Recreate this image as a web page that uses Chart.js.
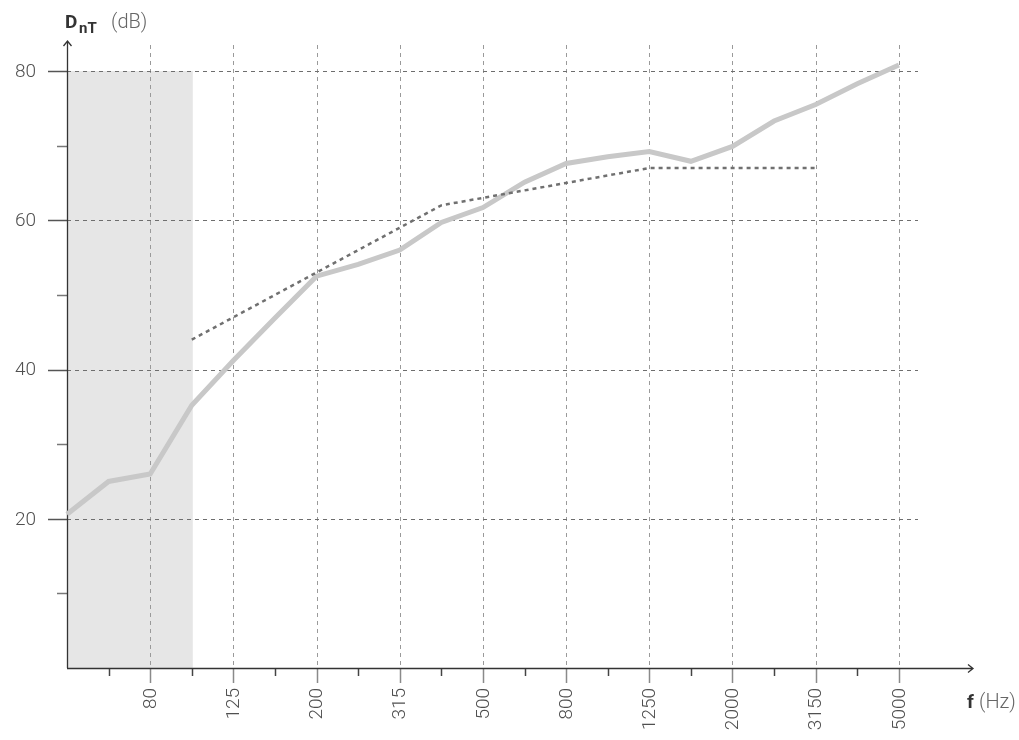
<!DOCTYPE html>
<html>
<head>
<meta charset="utf-8">
<script src="https://cdn.jsdelivr.net/npm/chart.js"></script>
<style>
  body { margin: 0; background: #fff; }
  canvas { display: block; }
</style>
</head>
<body>
<canvas id="chart" width="1019" height="740"></canvas>
<script>
// 1/3-octave band centre frequencies (Hz)
const freqs = ['50', '63', '80', '100', '125', '160', '200', '250', '315', '400', '500',
  '630', '800', '1000', '1250', '1600', '2000', '2500', '3150', '4000', '5000'];
// only these get a label / long tick / vertical grid
const labeledFreqs = ['80', '125', '200', '315', '500', '800', '1250', '2000', '3150', '5000'];
// measured DnT (dB)
const measured = [20.6, 25.0, 26.0, 35.2, 41.2, 46.9, 52.5, 54.1, 56.0, 59.7, 61.7,
  65.1, 67.6, 68.5, 69.2, 67.9, 69.9, 73.3, 75.5, 78.3, 80.8];
// shifted reference curve, 100..3150 Hz
const refFreqs = ['100', '125', '160', '200', '250', '315', '400', '500',
  '630', '800', '1000', '1250', '1600', '2000', '2500', '3150'];
const refCurve = [44, 47, 50, 53, 56, 59, 62, 63, 64, 65, 66, 67, 67, 67, 67, 67];
const yMajor = [20, 40, 60, 80];
const yMinor = [10, 30, 50, 70];
const shadeFrom = '50', shadeTo = '100';

const idx = f => freqs.indexOf(f);
const measuredPts = measured.map((v, i) => ({ x: i, y: v }));
const refPts = refCurve.map((v, i) => ({ x: idx(refFreqs[i]), y: v }));

const FONT = 'Roboto, "DejaVu Sans", sans-serif';

const decor = {
  id: 'decor',
  beforeDatasetsDraw(chart) {
    const { ctx, chartArea: a, scales: { x, y } } = chart;
    ctx.save();
    // shaded low-frequency band
    ctx.fillStyle = '#e6e6e6';
    const x0 = x.getPixelForValue(idx(shadeFrom));
    const x1 = x.getPixelForValue(idx(shadeTo)) + 1;
    ctx.fillRect(x0, y.getPixelForValue(80), x1 - x0, y.getPixelForValue(0) - y.getPixelForValue(80));

    // vertical grid
    ctx.setLineDash([4, 4]);
    ctx.lineWidth = 1;
    ctx.strokeStyle = '#9a9a9a';
    labeledFreqs.forEach(f => {
      const px = Math.round(x.getPixelForValue(idx(f))) + 0.5;
      ctx.beginPath();
      ctx.moveTo(px, 45);
      ctx.lineTo(px, a.bottom);
      ctx.stroke();
    });
    // horizontal grid
    ctx.strokeStyle = '#6e6e6e';
    yMajor.forEach(v => {
      const py = Math.round(y.getPixelForValue(v)) + 0.5;
      ctx.beginPath();
      ctx.moveTo(a.left, py);
      ctx.lineTo(a.right, py);
      ctx.stroke();
    });
    ctx.setLineDash([]);

    // y ticks
    ctx.lineWidth = 1.5;
    ctx.strokeStyle = '#555';
    yMajor.forEach(v => {
      const py = Math.round(y.getPixelForValue(v)) + 0.5;
      ctx.beginPath(); ctx.moveTo(48, py); ctx.lineTo(a.left, py); ctx.stroke();
    });
    ctx.strokeStyle = '#777';
    yMinor.forEach(v => {
      const py = Math.round(y.getPixelForValue(v)) + 0.5;
      ctx.beginPath(); ctx.moveTo(57, py); ctx.lineTo(a.left, py); ctx.stroke();
    });
    // x ticks
    freqs.forEach((f, i) => {
      if (i === 0) return;
      const px = Math.round(x.getPixelForValue(i)) + 0.5;
      const major = labeledFreqs.includes(f);
      ctx.strokeStyle = major ? '#8a8a8a' : '#444';
      ctx.beginPath();
      ctx.moveTo(px, a.bottom);
      ctx.lineTo(px, a.bottom + (major ? 15 : 8));
      ctx.stroke();
    });

    // axes with arrows
    ctx.strokeStyle = '#333';
    ctx.lineWidth = 1.3;
    ctx.beginPath();
    ctx.moveTo(a.left + 0.5, a.bottom);
    ctx.lineTo(a.left + 0.5, 41);
    ctx.moveTo(a.left - 3.5, 46); ctx.lineTo(a.left + 0.5, 41); ctx.lineTo(a.left + 4.5, 46);
    ctx.moveTo(a.left, a.bottom + 0.5);
    ctx.lineTo(973, a.bottom + 0.5);
    ctx.moveTo(968, a.bottom - 3.5); ctx.lineTo(973, a.bottom + 0.5); ctx.lineTo(968, a.bottom + 4.5);
    ctx.stroke();

    // tick labels
    ctx.fillStyle = '#505050';
    ctx.font = '300 19px ' + FONT;
    ctx.textAlign = 'right';
    ctx.textBaseline = 'middle';
    yMajor.forEach(v => ctx.fillText(String(v), 36, y.getPixelForValue(v) + 1));
    labeledFreqs.forEach(f => {
      const px = x.getPixelForValue(idx(f));
      ctx.save();
      ctx.translate(px, 688);
      ctx.rotate(-Math.PI / 2);
      ctx.textAlign = 'right';
      ctx.textBaseline = 'middle';
      ctx.fillText(f, 0, 1);
      ctx.restore();
    });

    // axis titles
    ctx.textAlign = 'left';
    ctx.textBaseline = 'alphabetic';
    ctx.fillStyle = '#333';
    ctx.font = 'bold 19px ' + FONT;
    ctx.fillText('D', 65, 28);
    ctx.font = 'bold 15px ' + FONT;
    ctx.fillText('nT', 79, 33);
    ctx.fillStyle = '#666';
    ctx.font = '300 20px ' + FONT;
    ctx.fillText('(dB)', 111, 28);
    ctx.fillStyle = '#333';
    ctx.font = 'bold 19px ' + FONT;
    ctx.fillText('f', 967, 708);
    ctx.fillStyle = '#666';
    ctx.font = '300 20px ' + FONT;
    ctx.fillText('(Hz)', 979, 708);
    ctx.restore();
  }
};

new Chart(document.getElementById('chart'), {
  type: 'line',
  data: {
    datasets: [
      {
        label: 'Reference',
        data: refPts,
        borderColor: '#707070',
        borderWidth: 2.5,
        borderDash: [4, 4],
        pointRadius: 0,
        tension: 0,
        clip: false
      },
      {
        label: 'DnT',
        data: measuredPts,
        borderColor: '#c8c8c8',
        borderWidth: 5,
        pointRadius: 0,
        tension: 0,
        clip: false
      }
    ]
  },
  options: {
    responsive: false,
    animation: false,
    layout: { padding: { left: 67, top: 71, right: 101, bottom: 72 } },
    plugins: { legend: { display: false }, tooltip: { enabled: false } },
    scales: {
      x: { type: 'linear', min: 0, max: 20.46, display: false },
      y: { type: 'linear', min: 0, max: 80, display: false }
    }
  },
  plugins: [decor]
});
</script>
</body>
</html>
